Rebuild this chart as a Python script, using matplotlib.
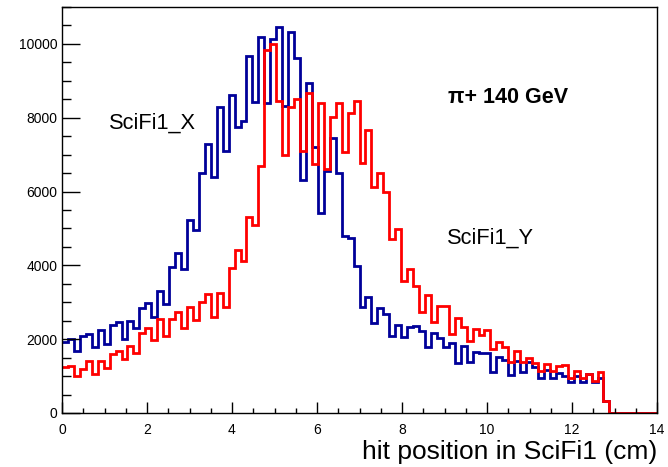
import numpy as np
import matplotlib
matplotlib.use("Agg")
import matplotlib.pyplot as plt
from matplotlib.ticker import MultipleLocator

plt.rcParams['font.family'] = ['Liberation Sans', 'DejaVu Sans']

# 100 bins from 0 to 14 cm
bin_lo, bin_hi, n_bins = 0.0, 14.0, 100

scifi_x = [1930, 2005, 1690, 2095, 2130, 1800, 2250, 1870, 2385, 2460,
           2005, 2500, 2310, 2855, 2970, 2590, 3315, 2955, 3965, 4330,
           3895, 5230, 4960, 6510, 7290, 6390, 8300, 7110, 8620, 7760,
           7920, 9675, 8430, 10180, 8410, 10135, 10470, 8320, 10335, 9630,
           6315, 8935, 7215, 5410, 6570, 7445, 6495, 4795, 4735, 3985,
           2865, 3135, 2430, 2835, 2685, 2085, 2385, 2050, 2340, 2360,
           2230, 1795, 2160, 2025, 1795, 1890, 1365, 1815, 1390, 1660,
           1635, 1635, 1120, 1525, 1435, 1030, 1410, 1120, 1375, 1255,
           955, 1165, 940, 1090, 1010, 830, 1005, 830, 1055, 830,
           940, 325, 0, 0, 0, 0, 0, 0, 0, 0]

scifi_y = [1255, 1275, 1005, 1185, 1420, 1055, 1420, 1210, 1590, 1680,
           1455, 1815, 1620, 2160, 2295, 1980, 2540, 2085, 2540, 2745,
           2295, 2865, 2520, 3015, 3225, 2595, 3245, 2880, 3920, 4415,
           4130, 5320, 5095, 6700, 9835, 10000, 8465, 6990, 8285, 8500,
           7110, 8665, 6740, 8410, 6620, 8030, 8395, 7080, 8120, 8465,
           6765, 7670, 6115, 6495, 6000, 4705, 4980, 3585, 3895, 3440,
           2745, 3200, 2475, 2900, 2900, 2140, 2565, 2340, 1960, 2270,
           2115, 2240, 1735, 1915, 1795, 1375, 1690, 1375, 1500, 1345,
           1140, 1320, 1145, 1280, 1300, 955, 1140, 940, 1055, 875,
           1105, 325, 0, 0, 0, 0, 0, 0, 0, 0]

edges = np.linspace(bin_lo, bin_hi, n_bins + 1)

fig = plt.figure(figsize=(6.68, 4.67), dpi=100)
ax = fig.add_axes([62/668, 1 - 413/467, (657-62)/668, (413-7)/467])

ax.stairs(scifi_x, edges, color='#000099', linewidth=2.0, baseline=None)
ax.stairs(scifi_y, edges, color='#ff0000', linewidth=2.0, baseline=None)

ax.set_xlim(0, 14)
ax.set_ylim(0, 11000)

ax.xaxis.set_major_locator(MultipleLocator(2))
ax.xaxis.set_minor_locator(MultipleLocator(0.5))
ax.yaxis.set_major_locator(MultipleLocator(2000))
ax.yaxis.set_minor_locator(MultipleLocator(500))

ax.tick_params(axis='both', which='both', direction='in', top=False, right=False, width=1, labelsize=10)
ax.tick_params(axis='x', which='major', length=8, pad=7)
ax.tick_params(axis='x', which='minor', length=3.6)
ax.tick_params(axis='y', which='major', length=13)
ax.tick_params(axis='y', which='minor', length=6.5)
for s in ax.spines.values():
    s.set_linewidth(1)

ax.set_xlabel('hit position in SciFi1 (cm)', fontsize=19, loc='right', labelpad=2)

ax.text(2.12, 7860, 'SciFi1_X', fontsize=15.7, ha='center', va='center')
ax.text(10.07, 4740, 'SciFi1_Y', fontsize=15.7, ha='center', va='center')
ax.text(9.08, 8560, 'π+ 140 GeV', fontsize=15.5, fontweight='bold', ha='left', va='center')

fig.savefig('out.png', dpi=100)
